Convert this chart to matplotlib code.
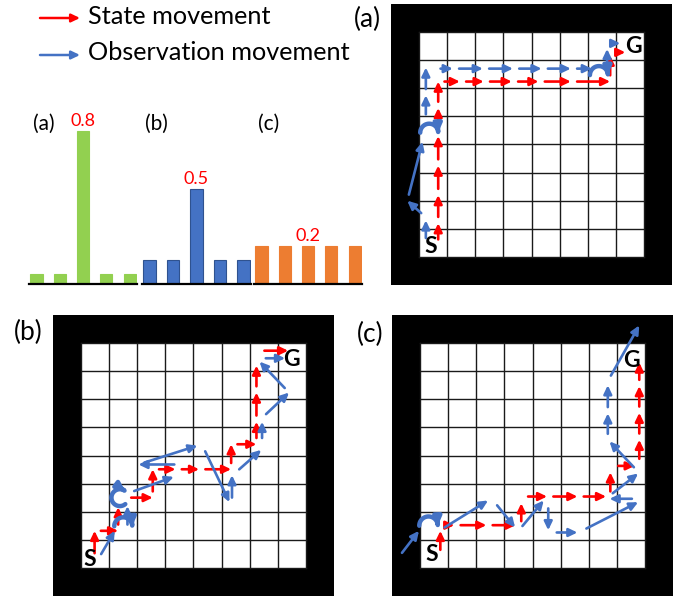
import numpy as np
import matplotlib
matplotlib.use('Agg')
import matplotlib.pyplot as plt
from matplotlib.patches import Rectangle, FancyArrowPatch
from matplotlib.path import Path

plt.rcParams['font.family'] = ['Lato', 'DejaVu Sans']

W, H = 683, 597
RED = '#FF0000'
BLUE = '#4472C4'

# belief over the five candidate observations for each case
dist_tags = ['(a)', '(b)', '(c)']
dist_a = [0.05, 0.05, 0.8, 0.05, 0.05]
dist_b = [0.125, 0.125, 0.5, 0.125, 0.125]
dist_c = [0.2, 0.2, 0.2, 0.2, 0.2]
dist_colors = ['#92D050', '#4472C4', '#ED7D31']
dist_edges = ['#92D050', '#2F528F', '#ED7D31']

# trajectories in grid-cell units, origin at the bottom-left of the 8x8 grid
state_a = [[(0.68, 0.4), (0.68, 1.2), (0.68, 2.2), (0.68, 3.25), (0.68, 4.3), (0.68, 5.3),
            (0.68, 6.24), (1.45, 6.24), (2.3, 6.24), (3.3, 6.24), (4.25, 6.24), (5.4, 6.24),
            (6.8, 6.24), (6.8, 7.16)],
           [(6.87, 7.28), (7.34, 7.28)]]
obs_a = [[(0.24, 0.45), (0.24, 1.3)],
         [(0.24, 1.41), (-0.42, 2.0), (0.12, 4.1)],
         [(0.24, 4.85), (0.24, 5.75), (0.24, 6.74)],
         [(0.54, 6.7), (1.2, 6.7), (2.27, 6.7), (3.34, 6.7), (4.36, 6.7), (5.4, 6.7), (6.15, 6.7)],
         [(6.69, 6.44), (6.69, 7.4)],
         [(6.69, 7.6), (7.16, 7.6)]]
turns_a = [(0.36, 4.42, 0.32, 180, 0), (6.4, 6.47, 0.32, 180, 0)]

state_b = [[(0.48, 0.3), (0.48, 1.32), (1.32, 1.32), (1.32, 2.16)],
           [(1.56, 2.5), (2.55, 2.5), (2.55, 3.51), (3.36, 3.51), (4.2, 3.51), (5.34, 3.51),
            (5.34, 4.4), (6.24, 4.4), (6.24, 5.2), (6.24, 6.24), (6.24, 7.2)],
           [(6.3, 7.73), (7.37, 7.73)]]
obs_b = [[(0.6, 0.3), (1.2, 1.32)],
         [(1.65, 1.32), (1.65, 2.2)],
         [(1.68, 2.66), (3.3, 3.24)],
         [(3.54, 3.68), (2.04, 3.68), (4.14, 4.35)],
         [(4.32, 4.35), (5.28, 2.34)],
         [(5.37, 2.28), (5.37, 3.3)],
         [(5.46, 3.36), (6.41, 4.2)],
         [(6.44, 4.4), (6.44, 5.2)],
         [(6.42, 5.32), (7.4, 6.24), (6.35, 7.34)],
         [(6.35, 7.46), (7.26, 7.46)]]
turns_b = [(1.5, 1.48, 0.32, 180, 0), (1.38, 2.5, 0.3, -50, -310)]

state_c = [[(0.72, 0.42), (0.72, 1.32)],
           [(0.74, 1.52), (1.22, 1.52), (2.36, 1.52), (3.4, 1.52)],
           [(3.6, 1.44), (3.6, 2.3)],
           [(3.62, 2.54), (4.52, 2.54), (5.6, 2.54), (6.62, 2.54)],
           [(6.77, 2.5), (6.77, 3.4)],
           [(6.83, 3.63), (7.64, 3.63)],
           [(7.8, 3.66), (7.8, 4.56), (7.8, 5.52), (7.8, 6.47), (7.8, 7.31)]]
obs_c = [[(-0.78, 0.36), (-0.04, 1.32)],
         [(0.68, 1.32), (2.42, 2.4)],
         [(2.6, 2.4), (3.38, 1.44)],
         [(3.5, 1.32), (4.4, 2.4)],
         [(4.56, 2.34), (4.56, 1.34)],
         [(4.64, 1.26), (5.6, 1.26)],
         [(5.72, 1.3), (7.76, 2.34)],
         [(7.76, 2.46), (6.74, 2.46)],
         [(6.68, 2.52), (7.76, 3.36)],
         [(7.76, 3.42), (6.74, 4.5)],
         [(6.68, 4.55), (6.68, 5.5), (6.68, 6.5)],
         [(6.68, 6.65), (7.8, 8.63)]]
turns_c = [(0.3, 1.5, 0.33, 180, 0)]

start_pos = [(0.43, 0.36), (0.29, 0.29), (0.4, 0.47)]
goal_pos = [(7.63, 7.49), (7.48, 7.41), (7.52, 7.37)]

ARROW = '-|>,head_length=0.5,head_width=0.24'


def px_axes(fig, x0, y0, w, h):
    return fig.add_axes([x0 / W, 1 - (y0 + h) / H, w / W, h / H])


def arrow(ax, p, q, color, gap=4.5):
    ax.annotate('', xy=q, xytext=p, annotation_clip=False,
                arrowprops=dict(arrowstyle=ARROW, color=color, lw=1.9,
                                shrinkA=gap, shrinkB=0, mutation_scale=10))


def turn(ax, cx, cy, r, a0, a1, color):
    t = np.radians(np.linspace(a0, a1, 40))
    verts = np.column_stack([cx + r * np.cos(t), cy + r * np.sin(t)])
    ax.add_patch(FancyArrowPatch(path=Path(verts), arrowstyle=ARROW, color=color,
                                 lw=3.2, mutation_scale=9, zorder=3))


def draw_grid(ax, states, obs, turns, s_pos, g_pos):
    ax.set_xlim(-1, 9)
    ax.set_ylim(-1, 9)
    ax.axis('off')
    ax.add_patch(Rectangle((-1, -1), 10, 10, color='black'))
    ax.add_patch(Rectangle((0, 0), 8, 8, facecolor='white', edgecolor='none'))
    for k in range(9):
        ax.plot([0, 8], [k, k], color='#1a1a1a', lw=1.0)
        ax.plot([k, k], [0, 8], color='#1a1a1a', lw=1.0)
    for line in states:
        for p, q in zip(line[:-1], line[1:]):
            arrow(ax, p, q, RED)
    for line in obs:
        for p, q in zip(line[:-1], line[1:]):
            arrow(ax, p, q, BLUE)
    for cx, cy, r, a0, a1 in turns:
        turn(ax, cx, cy, r, a0, a1, BLUE)
    ax.text(*s_pos, 'S', fontsize=16.5, fontweight='bold', ha='center', va='center')
    ax.text(*g_pos, 'G', fontsize=16.5, fontweight='bold', ha='center', va='center')


def draw_dist(ax, values, color, edge, tag):
    x = np.arange(len(values))
    ax.bar(x, values, width=0.52, color=color, edgecolor=edge, linewidth=0.8)
    ax.set_xlim(-0.32, 4.32)
    ax.set_ylim(0, 1)
    for s in ['top', 'right', 'left']:
        ax.spines[s].set_visible(False)
    ax.spines['bottom'].set_linewidth(1.6)
    ax.set_xticks([])
    ax.set_yticks([])
    ax.patch.set_alpha(0)
    ax.text(0.3, 0.84, tag, fontsize=15, ha='center', va='center')
    mid = len(values) // 2
    ax.text(mid, values[mid] + 0.01, f'{values[mid]:g}', color=RED, fontsize=13,
            ha='center', va='bottom')


fig = plt.figure(figsize=(W / 100, H / 100), dpi=100)

# page overlay in pixel units for the legend and panel tags
base = fig.add_axes([0, 0, 1, 1])
base.set_xlim(0, W)
base.set_ylim(H, 0)
base.axis('off')
base.annotate('', xy=(80, 18), xytext=(40, 18),
              arrowprops=dict(arrowstyle=ARROW, color=RED, lw=1.8, shrinkA=0, shrinkB=0,
                              mutation_scale=10))
base.annotate('', xy=(80, 55), xytext=(40, 55),
              arrowprops=dict(arrowstyle=ARROW, color=BLUE, lw=1.8, shrinkA=0, shrinkB=0,
                              mutation_scale=10))
base.text(88, 17, 'State movement', fontsize=18.2, va='center')
base.text(88, 53, 'Observation movement', fontsize=18.2, va='center')
base.text(367, 19, '(a)', fontsize=19, ha='center', va='center')
base.text(28, 332, '(b)', fontsize=19, ha='center', va='center')
base.text(370, 334, '(c)', fontsize=19, ha='center', va='center')

# belief bars
for x0, w, vals, col, edge, tag in zip([29, 142, 254], [108, 109, 108],
                                       [dist_a, dist_b, dist_c], dist_colors,
                                       dist_edges, dist_tags):
    draw_dist(px_axes(fig, x0, 93, w, 191), vals, col, edge, tag)

# grid worlds
boxes = [(391, 4), (53, 315), (392, 315)]
paths = [(state_a, obs_a, turns_a), (state_b, obs_b, turns_b), (state_c, obs_c, turns_c)]
for (x0, y0), (st, ob, tu), s, g in zip(boxes, paths, start_pos, goal_pos):
    draw_grid(px_axes(fig, x0, y0, 281, 281), st, ob, tu, s, g)

fig.savefig('out.png', dpi=100)
